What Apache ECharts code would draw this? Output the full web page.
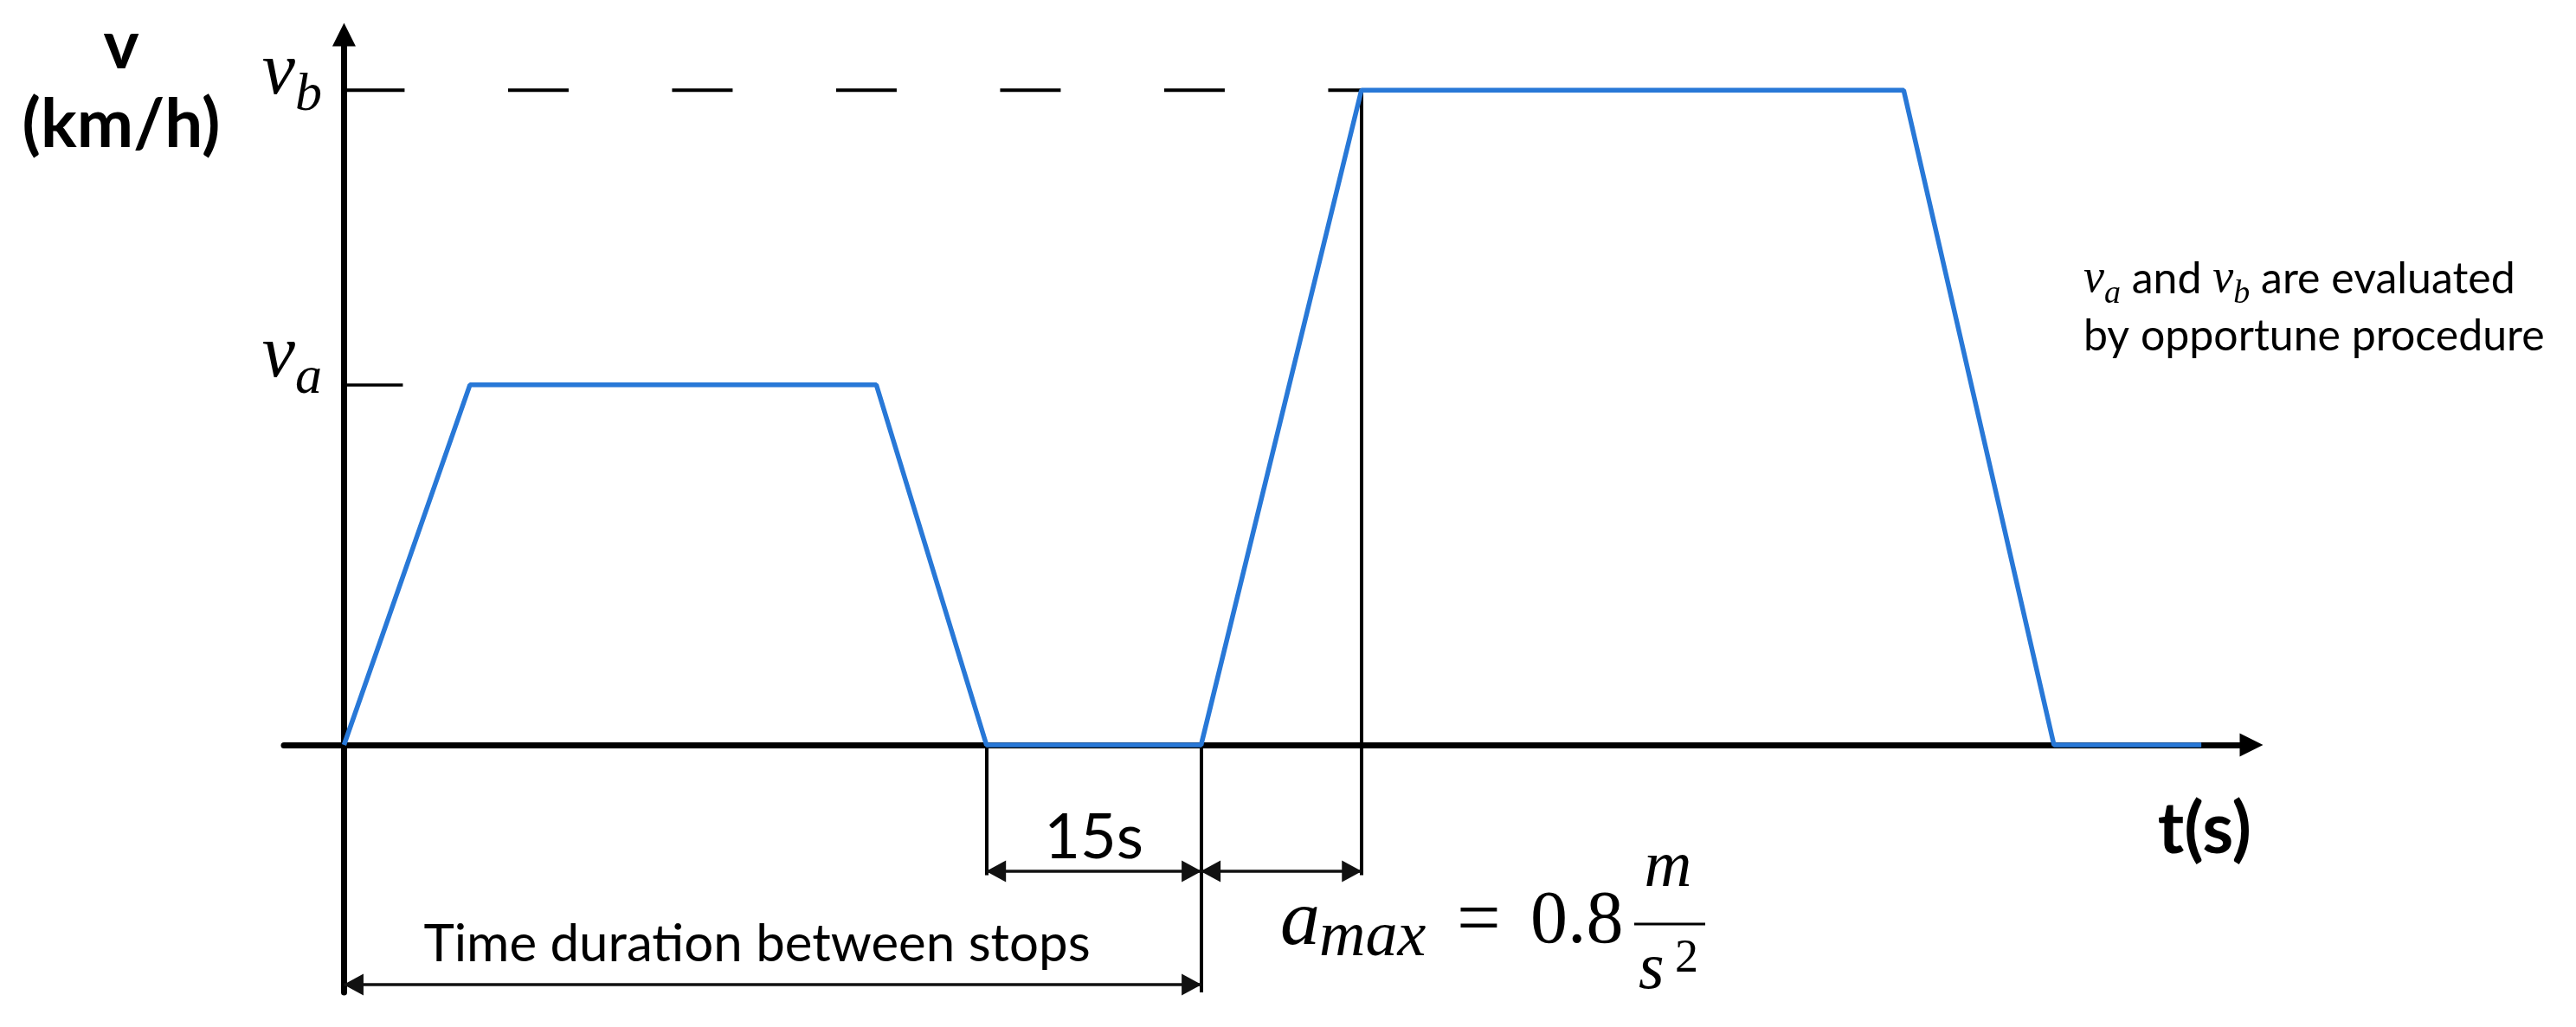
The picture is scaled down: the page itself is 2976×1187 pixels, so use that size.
<!DOCTYPE html>
<html>
<head>
<meta charset="utf-8">
<title>Speed profile between stops</title>
<script src="https://cdn.jsdelivr.net/npm/echarts@6/dist/echarts.min.js"></script>
<style>
  html, body { margin: 0; padding: 0; background: #fff; }
  #chart { width: 2976px; height: 1187px; }
</style>
</head>
<body>
<div id="chart"></div>
<script>
// reference speeds on the v axis
const vA = 55;
const vB = 100;
const yTickValues = [vA, vB];
const yTickSubs = ['a', 'b'];

// speed profile: time (s) and speed
const times = [0, 8.8, 37.2, 44.9, 59.9, 71.1, 109.0, 119.5, 129.8];
const speeds = [0, vA, vA, 0, 0, vB, vB, 0, 0];

// dimension marks under the time axis
const stopEnd = 44.9;
const departure = 59.9;   // stopEnd + 15 s dwell
const reachVb = 71.1;
const dimRow1 = -19.3;
const dimRow2 = -36.6;
const dwellLabel = '15s';
const spanLabel = 'Time duration between stops';

const MATH = '"Liberation Serif", "DejaVu Serif", serif';
const SANS = 'Lato, "Open Sans", sans-serif';
const BLUE = '#2878d7';

const chart = echarts.init(document.getElementById('chart'));

const profile = times.map((t, i) => [t, speeds[i]]);

// arrow heads for the dimension lines
const dimArrow = {
  symbol: ['triangle', 'triangle'],
  symbolSize: [25, 23],
  symbolOffset: [[0, 11], [0, 11]]
};

const mathItalic = { fontFamily: MATH, fontStyle: 'italic', color: '#000' };

chart.setOption({
  animation: false,
  backgroundColor: '#fff',
  grid: { left: 328, right: 375, top: 40, bottom: 40, containLabel: false, outerBoundsMode: 'none' },
  xAxis: {
    type: 'value',
    min: -4.2,
    max: 133.3,
    name: 't(s)',
    nameLocation: 'end',
    nameGap: 0,
    nameTextStyle: {
      fontFamily: SANS, fontWeight: 'bold', fontSize: 82, color: '#000',
      align: 'right', verticalAlign: 'top', padding: [58, 0, 0, 0]
    },
    axisLine: {
      onZero: true,
      symbol: ['none', 'triangle'],
      symbolSize: [27, 27],
      lineStyle: { color: '#000', width: 7 }
    },
    axisTick: { show: false },
    axisLabel: { show: false },
    splitLine: { show: false }
  },
  yAxis: {
    type: 'value',
    min: -37.8,
    max: 108.5,
    axisLine: {
      onZero: true,
      symbol: ['none', 'triangle'],
      symbolSize: [27, 27],
      lineStyle: { color: '#000', width: 7 }
    },
    axisTick: {
      show: true,
      inside: true,
      length: 68,
      customValues: [vA],
      lineStyle: { color: '#000', width: 3.5 }
    },
    axisLabel: {
      show: true,
      customValues: yTickValues,
      margin: -44,
      padding: [0, 0, 64, 0],
      formatter: function (val) {
        const sub = yTickSubs[yTickValues.indexOf(val)];
        return val === vB ? '{vb|v}{sb|' + sub + '}' : '{v|v}{s|' + sub + '}';
      },
      rich: {
        v: Object.assign({ fontSize: 86, lineHeight: 90 }, mathItalic),
        s: Object.assign({ fontSize: 62, lineHeight: 50, padding: [50, 0, 0, 0] }, mathItalic),
        vb: Object.assign({ fontSize: 86, lineHeight: 90, padding: [26, 0, 0, 0] }, mathItalic),
        sb: Object.assign({ fontSize: 62, lineHeight: 50, padding: [76, 0, 0, 0] }, mathItalic)
      }
    },
    splitLine: { show: false }
  },
  series: [
    {
      // dashed v_b guide, plus the thin vertical reference lines
      name: 'vb guide',
      type: 'line',
      data: [[0, vB], [reachVb, vB]],
      symbol: 'none',
      silent: true,
      clip: false,
      z: 4,
      lineStyle: { color: '#000', width: 4, type: [70, 119.5] },
      markLine: {
        silent: true,
        symbol: 'none',
        label: { show: false },
        lineStyle: { color: '#000', width: 4, type: 'solid' },
        data: [
          [{ coord: [stopEnd, 0] }, { coord: [stopEnd, dimRow1 - 0.6] }],
          [{ coord: [departure, 0] }, { coord: [departure, -37.8] }],
          [{ coord: [reachVb, vB] }, { coord: [reachVb, dimRow1 - 0.6] }]
        ]
      }
    },
    {
      name: 'speed',
      type: 'line',
      data: profile,
      symbol: 'none',
      silent: true,
      lineStyle: { color: BLUE, width: 5.5 },
      z: 5,
      markLine: Object.assign({
        silent: true,
        lineStyle: { color: '#111', width: 3.5, type: 'solid' },
        label: { show: false },
        data: [
          [
            { coord: [stopEnd, dimRow1], label: {
              show: true, position: 'middle', distance: 2, formatter: dwellLabel,
              fontFamily: SANS, fontSize: 72, color: '#000'
            } },
            { coord: [departure, dimRow1] }
          ],
          [{ coord: [departure, dimRow1] }, { coord: [reachVb, dimRow1] }],
          [
            { coord: [0, dimRow2], label: {
              show: true, position: 'middle', distance: 16, formatter: spanLabel,
              fontFamily: SANS, fontSize: 60, color: '#000', padding: [0, 36, 0, 0]
            } },
            { coord: [departure, dimRow2] }
          ]
        ]
      }, dimArrow)
    }
  ],
  graphic: [
    // y axis title
    { type: 'text', x: 140, y: 54, style: { text: 'v', fontFamily: SANS, fontWeight: 'bold', fontSize: 78, fill: '#000', align: 'center', verticalAlign: 'middle' } },
    { type: 'text', x: 140, y: 145, style: { text: '(km/h)', fontFamily: SANS, fontWeight: 'bold', fontSize: 78, fill: '#000', align: 'center', verticalAlign: 'middle' } },
    // note on the right
    {
      type: 'text', x: 2407, y: 290,
      style: {
        text: '{v|v}{s|a}{t| and }{v|v}{s|b}{t| are evaluated}\n{t|by opportune procedure}',
        verticalAlign: 'top',
        rich: {
          t: { fontFamily: SANS, fontSize: 50, lineHeight: 66, fill: '#000' },
          v: { fontFamily: MATH, fontStyle: 'italic', fontSize: 54, lineHeight: 66, fill: '#000' },
          s: { fontFamily: MATH, fontStyle: 'italic', fontSize: 38, lineHeight: 30, padding: [34, 0, 0, 0], fill: '#000' }
        }
      }
    },
    // a_max = 0.8 m/s^2
    { type: 'text', x: 1479, y: 1067, style: { text: 'a', fontFamily: MATH, fontStyle: 'italic', fontSize: 92, fill: '#000', verticalAlign: 'middle' } },
    { type: 'text', x: 1524, y: 1085, style: { text: 'max', fontFamily: MATH, fontStyle: 'italic', fontSize: 74, fill: '#000', verticalAlign: 'middle' } },
    { type: 'text', x: 1683, y: 1067, style: { text: '=', fontFamily: MATH, fontSize: 90, fill: '#000', verticalAlign: 'middle' } },
    { type: 'text', x: 1768, y: 1066, style: { text: '0.8', fontFamily: MATH, fontSize: 86, fill: '#000', verticalAlign: 'middle' } },
    { type: 'line', shape: { x1: 1888, y1: 1068, x2: 1970, y2: 1068 }, style: { stroke: '#000', lineWidth: 3 } },
    { type: 'text', x: 1927, y: 1004, style: { text: 'm', fontFamily: MATH, fontStyle: 'italic', fontSize: 76, fill: '#000', align: 'center', verticalAlign: 'middle' } },
    { type: 'text', x: 1893, y: 1122, style: { text: 's', fontFamily: MATH, fontStyle: 'italic', fontSize: 76, fill: '#000', verticalAlign: 'middle' } },
    { type: 'text', x: 1935, y: 1109, style: { text: '2', fontFamily: MATH, fontSize: 54, fill: '#000', verticalAlign: 'middle' } }
  ]
});
</script>
</body>
</html>
